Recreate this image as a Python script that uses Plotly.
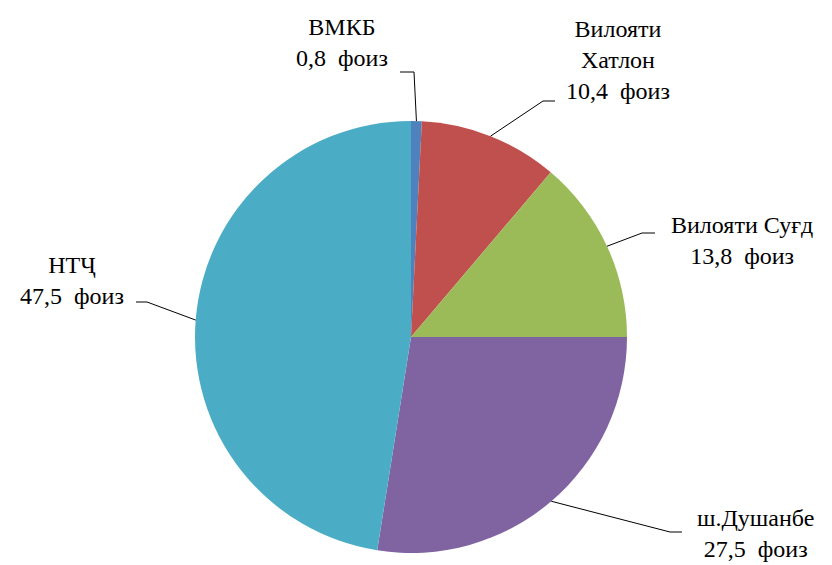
import math
import plotly.graph_objects as go

categories = ["ВМКБ", "Вилояти Хатлон", "Вилояти Суғд", "ш.Душанбе", "НТҶ"]
values = [0.8, 10.4, 13.8, 27.5, 47.5]
label_texts = ["ВМКБ<br>0,8  фоиз", "Вилояти<br>Хатлон<br>10,4  фоиз",
               "Вилояти Суғд<br>13,8  фоиз", "ш.Душанбе<br>27,5  фоиз",
               "НТҶ<br>47,5  фоиз"]
colors = ["#4F81BD", "#C0504D", "#9BBB59", "#8064A2", "#4BACC6"]

W, H = 832, 565
OFF = 8  # page body margin
CX, CY, R = 411 - OFF, 337 - OFF, 216

# label block centres and leader elbows (layout, in page pixels)
label_pos = [(342, 43), (618, 60), (742, 240), (755, 533), (72, 280)]
elbows = [((414, 72), (400, 72)), ((543, 101), (555, 101)), ((642, 233), (655, 233)),
          ((670, 532), (682, 532)), ((147, 302), (136, 302))]

fig = go.Figure(go.Pie(
    labels=categories, values=values, sort=False, direction="clockwise", rotation=0,
    marker=dict(colors=colors, line=dict(width=0)),
    textinfo="none", hoverinfo="label+value", showlegend=False,
    domain=dict(x=[(CX - R) / W, (CX + R) / W], y=[1 - (CY + R) / H, 1 - (CY - R) / H]),
))

def px(x, y):
    return x / W, 1 - y / H

def pg(x, y):
    return px(x - OFF, y - OFF)

total = sum(values)
cum = 0
shapes = []
annotations = []
for i, v in enumerate(values):
    mid = (cum + v / 2) / total * 2 * math.pi
    cum += v
    ex = CX + R * math.sin(mid)
    ey = CY - R * math.cos(mid)
    (bx, by), (tx, ty) = elbows[i]
    pts = [px(ex, ey), pg(bx, by), pg(tx, ty)]
    path = "M {} {} L {} {} L {} {}".format(*[c for p in pts for c in p])
    shapes.append(dict(type="path", xref="paper", yref="paper", path=path,
                       line=dict(color="#000000", width=1)))
    lx, ly = pg(*label_pos[i])
    annotations.append(dict(x=lx, y=ly, xref="paper", yref="paper", text=label_texts[i],
                            showarrow=False, xanchor="center", yanchor="middle", align="center",
                            font=dict(family="Liberation Serif, Times New Roman, serif",
                                      size=24, color="#000000")))

fig.update_layout(
    width=W, height=H, margin=dict(l=0, r=0, t=0, b=0),
    paper_bgcolor="white", plot_bgcolor="white",
    shapes=shapes, annotations=annotations,
)
fig.write_html("out.html")
